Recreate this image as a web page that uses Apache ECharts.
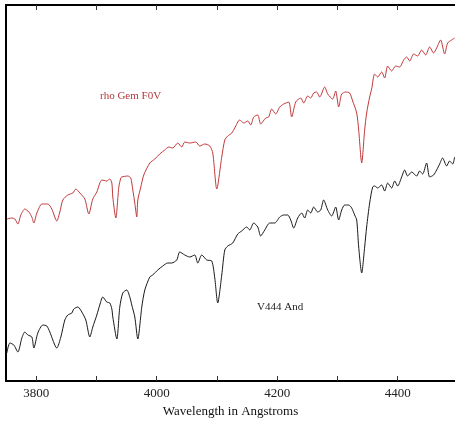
<!DOCTYPE html>
<html>
<head>
<meta charset="utf-8">
<script src="https://cdn.jsdelivr.net/npm/echarts@6/dist/echarts.min.js"></script>
<style>html,body{margin:0;padding:0;background:#fff}#c{width:455px;height:426px}</style>
</head>
<body>
<div id="c"></div>
<script>
// Wavelength (Angstrom) and relative flux (arbitrary units)
var rhoGemWave = [3751.4,3759.7,3764.7,3769.7,3774.6,3781.3,3787.9,3792.9,3796.2,3801.2,
  3809.5,3814.4,3819.4,3826.0,3834.3,3839.3,3844.3,3852.6,3860.9,3865.8,
  3872.5,3880.8,3887.4,3894.0,3900.7,3909.0,3917.2,3922.2,3925.6,3927.2,
  3932.2,3937.2,3940.5,3942.0,3952.0,3957.0,3960.4,3963.7,3967.0,3968.7,
  3973.7,3978.6,3988.6,3996.9,4005.1,
  4013.4,4020.1,4026.7,4035.0,4041.6,4046.6,4054.9,4064.9,4071.5,4079.8,
  4088.1,4093.1,4099.7,4108.0,4113.0,4118.0,4124.6,4129.5,4137.8,4144.5,
  4151.1,4156.1,4161.0,4167.7,4172.6,4180.9,4185.9,4190.9,4197.5,4204.2,
  4210.8,4219.1,4224.0,4230.7,4239.0,4244.0,4250.6,4255.6,4260.5,4265.5,
  4270.5,4278.8,4283.8,4292.0,4297.0,4302.0,4307.0,4313.6,4320.2,4325.2,
  4331.9,4335.2,4340.2,4345.1,4348.4,4353.4,4356.7,4361.7,4366.7,4373.3,
  4378.3,4383.3,4389.9,4396.5,4403.2,4409.8,4414.8,4419.8,4426.4,4433.0,
  4439.7,4446.3,4452.9,4459.5,4464.5,4471.2,4477.8,4482.8,4489.4,4494.4];
var rhoGemFlux = [162,163,162,157,166,172,169,164,158,168,
  177,177,177,172,160,169,181,186,188,192,
  188,182,167,182,189,201,200,202,198,184,
  163,194,203,204,205,203,191,178,164,181,
  194,206,218,222,227,
  231,234,233,238,234,239,238,239,235,237,
  235,228,192,224,241,245,248,253,261,258,
  260,256,264,266,257,263,264,272,267,274,
  277,279,264,279,283,278,285,283,288,289,
  284,294,287,282,290,274,287,289,288,280,
  268,251,218,251,268,284,292,307,304,309,
  303,315,310,315,314,321,324,320,327,325,
  331,326,334,328,333,341,327,338,341,343];
var v444Wave = [3751.4,3756.4,3763.0,3769.7,3776.3,3781.3,3786.2,3792.9,3796.2,3802.8,
  3811.1,3817.7,3822.7,3834.3,3841.0,3847.6,3852.6,3859.2,3862.5,3869.2,
  3875.8,3882.4,3889.1,3894.0,3900.7,3905.6,3910.6,3917.2,3922.2,3925.6,
  3927.2,3933.9,3938.8,3943.8,3950.4,3955.4,3958.7,3963.7,3968.7,3975.3,
  3980.3,3988.6,3993.5,4001.8,4010.1,
  4018.4,4025.0,4033.3,4038.3,4046.6,4054.9,4063.2,4068.2,4074.8,4083.1,
  4091.4,4096.4,4101.3,4108.0,4113.0,4118.0,4126.2,4134.5,4141.1,4149.4,
  4154.4,4161.0,4167.7,4172.6,4179.3,4187.6,4195.9,4204.2,4210.8,4217.4,
  4222.4,4227.4,4234.0,4240.6,4245.6,4250.6,4255.6,4260.5,4267.2,4272.2,
  4277.1,4283.8,4290.4,4297.0,4302.0,4307.0,4312.0,4318.6,4323.6,4328.5,
  4331.9,4335.2,4340.2,4345.1,4348.4,4353.4,4358.4,4361.7,4366.7,4373.3,4378.3,4383.3,
  4389.9,4394.9,4399.9,4406.5,4411.5,4416.4,4423.1,4431.4,4436.3,4441.3,
  4447.9,4452.9,4459.5,4464.5,4469.5,4474.5,4481.1,4486.1,4491.1,4494.4];
var v444Flux = [28,38,36,29,43,49,46,44,33,48,
  56,55,49,33,44,61,66,68,72,74,
  69,61,44,54,66,76,84,79,78,72,
  64,42,74,88,91,84,76,64,42,74,
  91,104,106,111,115,
  118,118,121,129,126,124,126,118,126,121,
  120,103,78,106,131,135,138,147,150,154,
  151,158,154,145,151,158,158,164,166,166,
  161,153,163,168,163,171,168,174,169,171,
  181,171,165,174,161,171,176,176,173,166,
  161,134,108,134,154,178,194,195,193,196,190,198,
  193,200,195,204,211,205,209,205,210,207,
  218,204,206,211,217,223,215,220,217,224];
var tickValues = [3800,3900,4000,4100,4200,4300,4400];
var labelValues = [3800,4000,4200,4400];
var seriesNames = ['rho Gem F0V','V444 And'];
var axisTitle = 'Wavelength in Angstroms';

function pairs(w, f) { return w.map(function (x, i) { return [x, f[i]]; }); }

var serif = '"Liberation Serif", "DejaVu Serif", serif';
var chart = echarts.init(document.getElementById('c'));
chart.setOption({
  animation: false,
  backgroundColor: '#fff',
  grid: { left: 6, right: 0, top: 5, bottom: 45 },
  xAxis: [{
    type: 'value', position: 'bottom', min: 3750, max: 4495,
    axisLine: { show: true, lineStyle: { color: '#000', width: 2 } },
    axisTick: { show: true, inside: true, length: 5, customValues: tickValues, lineStyle: { color: '#333', width: 1 } },
    axisLabel: { show: true, customValues: labelValues, margin: 6, fontFamily: serif, fontSize: 13, color: '#222',
      formatter: function (v) { return String(v); } },
    splitLine: { show: false },
    name: axisTitle, nameLocation: 'middle', nameGap: 22,
    nameTextStyle: { fontFamily: serif, fontSize: 13, color: '#111' }
  }, {
    type: 'value', position: 'top', min: 3750, max: 4495,
    axisLine: { show: true, lineStyle: { color: '#000', width: 2 } },
    axisTick: { show: true, inside: true, length: 5, customValues: tickValues, lineStyle: { color: '#333', width: 1 } },
    axisLabel: { show: false },
    splitLine: { show: false }
  }],
  yAxis: {
    type: 'value', min: 0, max: 376,
    axisLine: { show: true, lineStyle: { color: '#000', width: 2 } },
    axisTick: { show: false }, axisLabel: { show: false }, splitLine: { show: false }
  },
  series: [{
    name: seriesNames[0], type: 'line', data: pairs(rhoGemWave, rhoGemFlux),
    showSymbol: false, symbol: 'none', smooth: 0.25, lineStyle: { color: '#c0393b', width: 1 }
  }, {
    name: seriesNames[1], type: 'line', data: pairs(v444Wave, v444Flux),
    showSymbol: false, symbol: 'none', smooth: 0.25, lineStyle: { color: '#1a1a1a', width: 1 }
  }],
  graphic: [{
    type: 'text', left: 100, top: 91,
    style: { text: seriesNames[0], font: '11px ' + serif, fill: '#b03a3a' }
  }, {
    type: 'text', left: 257, top: 302,
    style: { text: seriesNames[1], font: '11px ' + serif, fill: '#222' }
  }]
});
</script>
</body>
</html>
